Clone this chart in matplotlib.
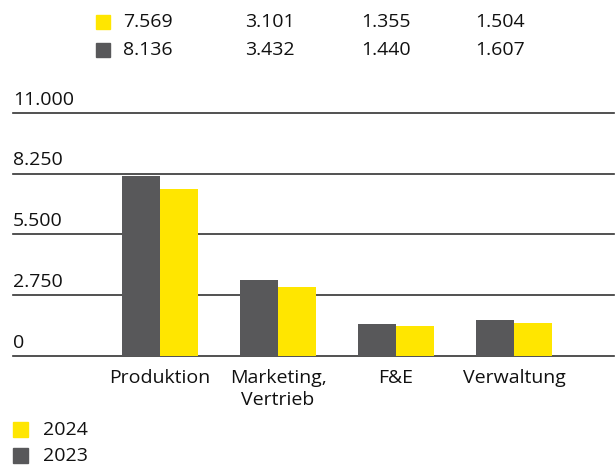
import matplotlib
matplotlib.use("Agg")
import matplotlib.pyplot as plt
import numpy as np

categories = ["Produktion", "Marketing,\nVertrieb", "F&E", "Verwaltung"]
values_2024 = [7569, 3101, 1355, 1504]
values_2023 = [8136, 3432, 1440, 1607]
labels_2024 = ["7.569", "3.101", "1.355", "1.504"]
labels_2023 = ["8.136", "3.432", "1.440", "1.607"]
yticks = [0, 2750, 5500, 8250, 11000]
ytick_labels = ["0", "2.750", "5.500", "8.250", "11.000"]

yellow = "#FFE600"
gray = "#58585A"

plt.rcParams['font.family'] = ['Open Sans', 'DejaVu Sans']
fs = 14

fig = plt.figure(figsize=(6.16, 4.65), dpi=100)
W, H = 616, 465
ax = fig.add_axes([13 / W, (H - 356) / H, (614 - 13) / W, (356 - 113) / H])

x = np.arange(len(categories))
bw = 0.32
ax.bar(x - bw / 2, values_2023, bw, color=gray, zorder=3)
ax.bar(x + bw / 2, values_2024, bw, color=yellow, zorder=3)

ax.set_xlim(-1.246, -1.246 + (614 - 13) / 118)
ax.set_ylim(0, 11000)
for s in ax.spines.values():
    s.set_visible(False)
ax.set_yticks([])
ax.set_xticks([])

for t, lab in zip(yticks, ytick_labels):
    ax.axhline(t, color="#333333", lw=1.2, zorder=2, clip_on=False)
    ax.text(-1.246, t + 200, lab, fontsize=fs, ha="left", va="bottom", color="#111111")

for xi, c in zip(x, categories):
    ax.text(xi, -600, c, fontsize=fs, ha="center", va="top", color="#111111", linespacing=1.3)

# value table at top
col_x = [123, 245, 361, 475]
for row_y, labs, col in [(22, labels_2024, yellow), (50, labels_2023, gray)]:
    fig.patches.append(plt.Rectangle((96 / W, (H - row_y - 7) / H), 14 / W, 14 / H,
                                     transform=fig.transFigure, color=col))
    for cx, lab in zip(col_x, labs):
        fig.text(cx / W, (H - row_y) / H, lab, fontsize=fs, ha="left", va="center", color="#111111")

# legend at bottom
for row_y, lab, col in [(430, "2024", yellow), (456, "2023", gray)]:
    fig.patches.append(plt.Rectangle((13 / W, (H - row_y - 7) / H), 15 / W, 15 / H,
                                     transform=fig.transFigure, color=col))
    fig.text(43 / W, (H - row_y) / H, lab, fontsize=fs, ha="left", va="center", color="#111111")

fig.savefig("out.png", dpi=100)
